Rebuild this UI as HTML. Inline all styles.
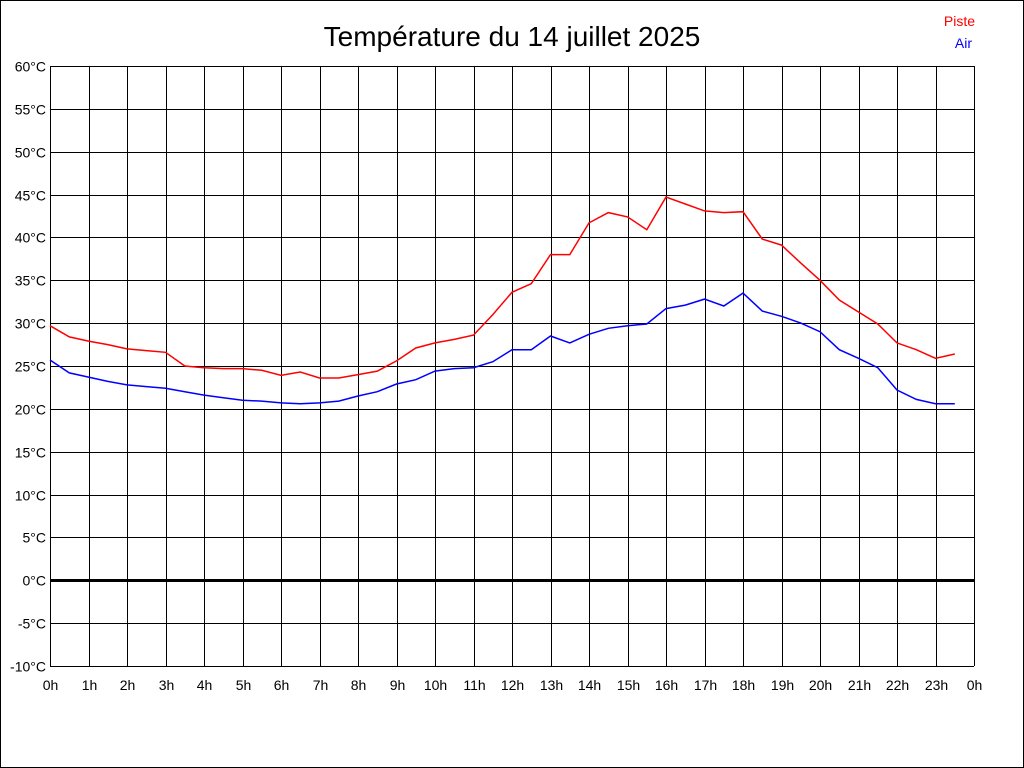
<!DOCTYPE html>
<html><head><meta charset="utf-8"><style>
html,body{margin:0;padding:0;background:#fff}
svg{display:block;font-family:"Liberation Sans",sans-serif}
</style></head><body>
<svg id="c" width="1024" height="768">
<rect x="0.5" y="0.5" width="1023" height="767" fill="#fff" stroke="#000"/>
<text x="512" y="46" font-size="28" text-anchor="middle">Température du 14 juillet 2025</text>
<text x="975" y="26" font-size="14" text-anchor="end" fill="#f00">Piste</text>
<text x="972" y="48" font-size="14" text-anchor="end" fill="#00f">Air</text>
<g id="grid"></g><g id="lines"></g>
</svg>
<script>
const hours=[0,0.5,1,1.5,2,2.5,3,3.5,4,4.5,5,5.5,6,6.5,7,7.5,8,8.5,9,9.5,10,10.5,11,11.5,12,12.5,13,13.5,14,14.5,15,15.5,16,16.5,17,17.5,18,18.5,19,19.5,20,20.5,21,21.5,22,22.5,23,23.5];
const piste=[29.7,28.4,27.9,27.5,27.0,26.8,26.6,25.0,24.8,24.7,24.7,24.5,23.9,24.3,23.6,23.6,24.0,24.4,25.6,27.1,27.7,28.1,28.6,31.0,33.6,34.6,38.0,38.0,41.7,42.9,42.4,40.9,44.7,43.9,43.1,42.9,43.0,39.8,39.1,37.0,35.0,32.7,31.3,29.9,27.7,26.9,25.9,26.4];
const air=[25.7,24.2,23.7,23.2,22.8,22.6,22.4,22.0,21.6,21.3,21.0,20.9,20.7,20.6,20.7,20.9,21.5,22.0,22.9,23.4,24.4,24.7,24.8,25.5,26.9,26.9,28.5,27.7,28.7,29.4,29.7,29.9,31.7,32.1,32.8,32.0,33.5,31.4,30.8,30.0,29.0,26.9,25.9,24.8,22.2,21.1,20.6,20.6];
const yTicks=[-10,-5,0,5,10,15,20,25,30,35,40,45,50,55,60];
const xTicks=[0,1,2,3,4,5,6,7,8,9,10,11,12,13,14,15,16,17,18,19,20,21,22,23,24];
const X0=50,X1=974,Y0=666,Y1=66;
const xs=h=>X0+(X1-X0)*h/24;
const ys=t=>Y0-(Y0-Y1)*(t+10)/70;
const NS="http://www.w3.org/2000/svg";
const g=document.getElementById('grid'),L=document.getElementById('lines');
function mk(tag,attrs,parent){const e=document.createElementNS(NS,tag);for(const k in attrs)e.setAttribute(k,attrs[k]);parent.appendChild(e);return e;}
yTicks.forEach(t=>{
 const y=Math.round(ys(t))+0.5;
 const ln=mk('line',{x1:X0,x2:X1,y1:y,y2:y,stroke:'#000','stroke-width':t===0?3:1},g);
 
 
 const tx=mk('text',{x:46,y:y+5,'font-size':14,'text-anchor':'end'},g);
 tx.textContent=t+'°C';
 
 
});
xTicks.forEach(h=>{
 const x=Math.round(xs(h))+0.5;
 const ln=mk('line',{x1:x,x2:x,y1:Y1,y2:Y0,stroke:'#000','stroke-width':1},g);
 
 
 const tx=mk('text',{x:x,y:690,'font-size':14,'text-anchor':'middle'},g);
 tx.textContent=(h%24)+'h';
 
 
});
function series(vals,color,name){
 const p=mk('polyline',{points:vals.map((v,i)=>xs(hours[i]).toFixed(1)+','+ys(v).toFixed(1)).join(' '),fill:'none',stroke:color,'stroke-width':1.5},L);
 
 
}
series(piste,'#f00','piste-line');
series(air,'#00f','air-line');
</script>
</body></html>
